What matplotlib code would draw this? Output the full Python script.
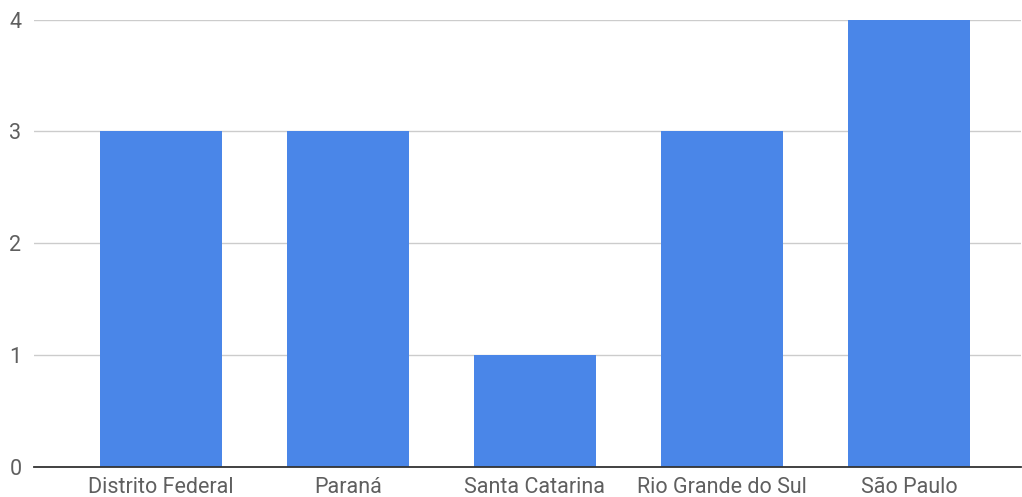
import matplotlib.pyplot as plt

estados = ['Distrito Federal', 'Paraná', 'Santa Catarina', 'Rio Grande do Sul', 'São Paulo']
quantidade = [3, 3, 1, 3, 4]
yticks = [0, 1, 2, 3, 4]

plt.rcParams['font.family'] = ['Roboto', 'DejaVu Sans']

fig = plt.figure(figsize=(10.22, 4.97), dpi=100)
ax = fig.add_axes([34 / 1022, 30 / 497, 987 / 1022, 447.5 / 497])

ax.bar(range(len(estados)), quantidade, width=0.65, color='#4a86e8', zorder=3)

ax.set_xlim(-0.68, 4.60)
ax.set_ylim(0, 4)
ax.set_yticks(yticks)
ax.set_xticks(range(len(estados)))
ax.set_xticklabels(estados)

# gridlines only, no frame except the baseline
ax.grid(axis='y', color='#cccccc', linewidth=1, zorder=0)
for s in ['top', 'right', 'left']:
    ax.spines[s].set_visible(False)
ax.spines['bottom'].set_color('#333333')
ax.spines['bottom'].set_linewidth(1.3)
ax.spines['bottom'].set_zorder(4)
ax.tick_params(axis='both', length=0, labelsize=15.5, labelcolor='#5f5f5f')
ax.tick_params(axis='y', pad=9)
ax.tick_params(axis='x', pad=7)

fig.savefig('out.png', dpi=100)
